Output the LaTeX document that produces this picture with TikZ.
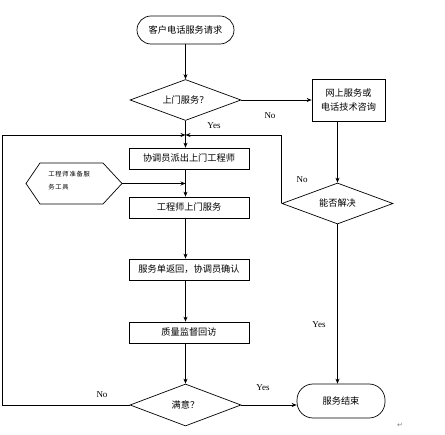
\documentclass[tikz,border=0pt]{standalone}
\usepackage{fontspec}
\setmainfont{Liberation Serif}
\newfontfamily\cjk{Noto Sans CJK SC}
\newfontfamily\cjksp[LetterSpace=12]{Noto Sans CJK SC}
\newfontfamily\symfont{DejaVu Sans}
\usetikzlibrary{shapes.geometric,arrows.meta,calc}
\begin{document}
\begin{tikzpicture}[x=1pt,y=-1pt,
  every path/.style={line width=0.7pt},
  box/.style={draw, rectangle, inner sep=0pt, minimum width=120pt, minimum height=21pt, font=\cjk\fontsize{9.2}{11}\selectfont},
  term/.style={draw, rectangle, rounded corners=14pt, inner sep=0pt, font=\cjk\fontsize{9.2}{11}\selectfont},
  dec/.style={draw, diamond, aspect=2.8, inner sep=0pt, minimum width=111pt, minimum height=41pt, font=\cjk\fontsize{9.2}{11}\selectfont},
  lab/.style={font=\fontsize{9}{10}\selectfont, inner sep=0pt},
  arr/.style={-{Stealth[length=5pt,width=4pt]}}
]
\useasboundingbox (0,0) rectangle (445,435);

\node[term, minimum width=97pt, minimum height=28pt] (start) at (185.5,30) {客户电话服务请求};
\node[dec] (d1) at (185.5,100) {上门服务？};
\node[draw, rectangle, inner sep=0pt, minimum width=73pt, minimum height=42pt, align=center,
      font=\cjk\fontsize{9.2}{14}\selectfont] (web) at (348.5,100) {网上服务或\\电话技术咨询};
\node[dec] (d2) at (337.5,203.5) {能否解决};
\node[box] (b1) at (189,158.5) {协调员派出上门工程师};
\node[box] (b2) at (189,207.5) {工程师上门服务};
\node[box] (b3) at (189,269.5) {服务单返回，协调员确认};
\node[box] (b4) at (189,332.5) {质量监督回访};
\node[dec, minimum height=42pt] (d3) at (185.5,405) {满意？};
\node[term, minimum width=88pt, minimum height=34pt, rounded corners=16pt] (end) at (341,401) {服务结束};

% hexagon
\coordinate (hl) at (26,183.5);
\coordinate (hr) at (122,183.5);
\draw (hl) -- (40,163) -- (103,163) -- (hr) -- (103,204) -- (40,204) -- cycle;
\node[anchor=west, align=left, inner sep=0pt, font=\cjksp\fontsize{6.3}{13}\selectfont] (hex) at (48,181) {工程师准备服\\务工具};

% junction
\coordinate (j) at (185.5,135);

\draw[arr] (start) -- (d1);
\draw[arr] (d1.east) -- (web.west);
\draw[arr] (d1.south) -- (d1.south |- b1.north);
\draw[arr] (b1.south -| d1.south) -- (b2.north -| d1.south);
\draw[arr] (hr) -- (hr -| d1.south);
\draw[arr] (b2.south -| d1.south) -- (b3.north -| d1.south);
\draw[arr] (b3.south -| d1.south) -- (b4.north -| d1.south);
\draw[arr] (b4.south -| d1.south) -- (d3.north);
\draw[arr] (d3.east) -- (d3.east -| end.west);
\draw[arr] (d2.north |- web.south) -- (d2.north);
\draw[arr] (d2.south) -- (d2.south |- end.north);
\draw[arr] (d3.west) -- (2,405) -- (2,135) -- (j);
\draw[arr] (d2.west) -- (d2.west |- j) -- (j);

\node[lab] (l1) at (270,116) {No};
\node[lab] (l2) at (214,126) {Yes};
\node[lab] (l3) at (302,180) {No};
\node[lab] (l4) at (319,325) {Yes};
\node[lab] (l5) at (263,388) {Yes};
\node[lab] (l6) at (102,395) {No};
\node[inner sep=0pt, text=gray, font=\symfont\fontsize{7}{8}\selectfont] (ret) at (400,425) {↵};
\end{tikzpicture}
\end{document}
